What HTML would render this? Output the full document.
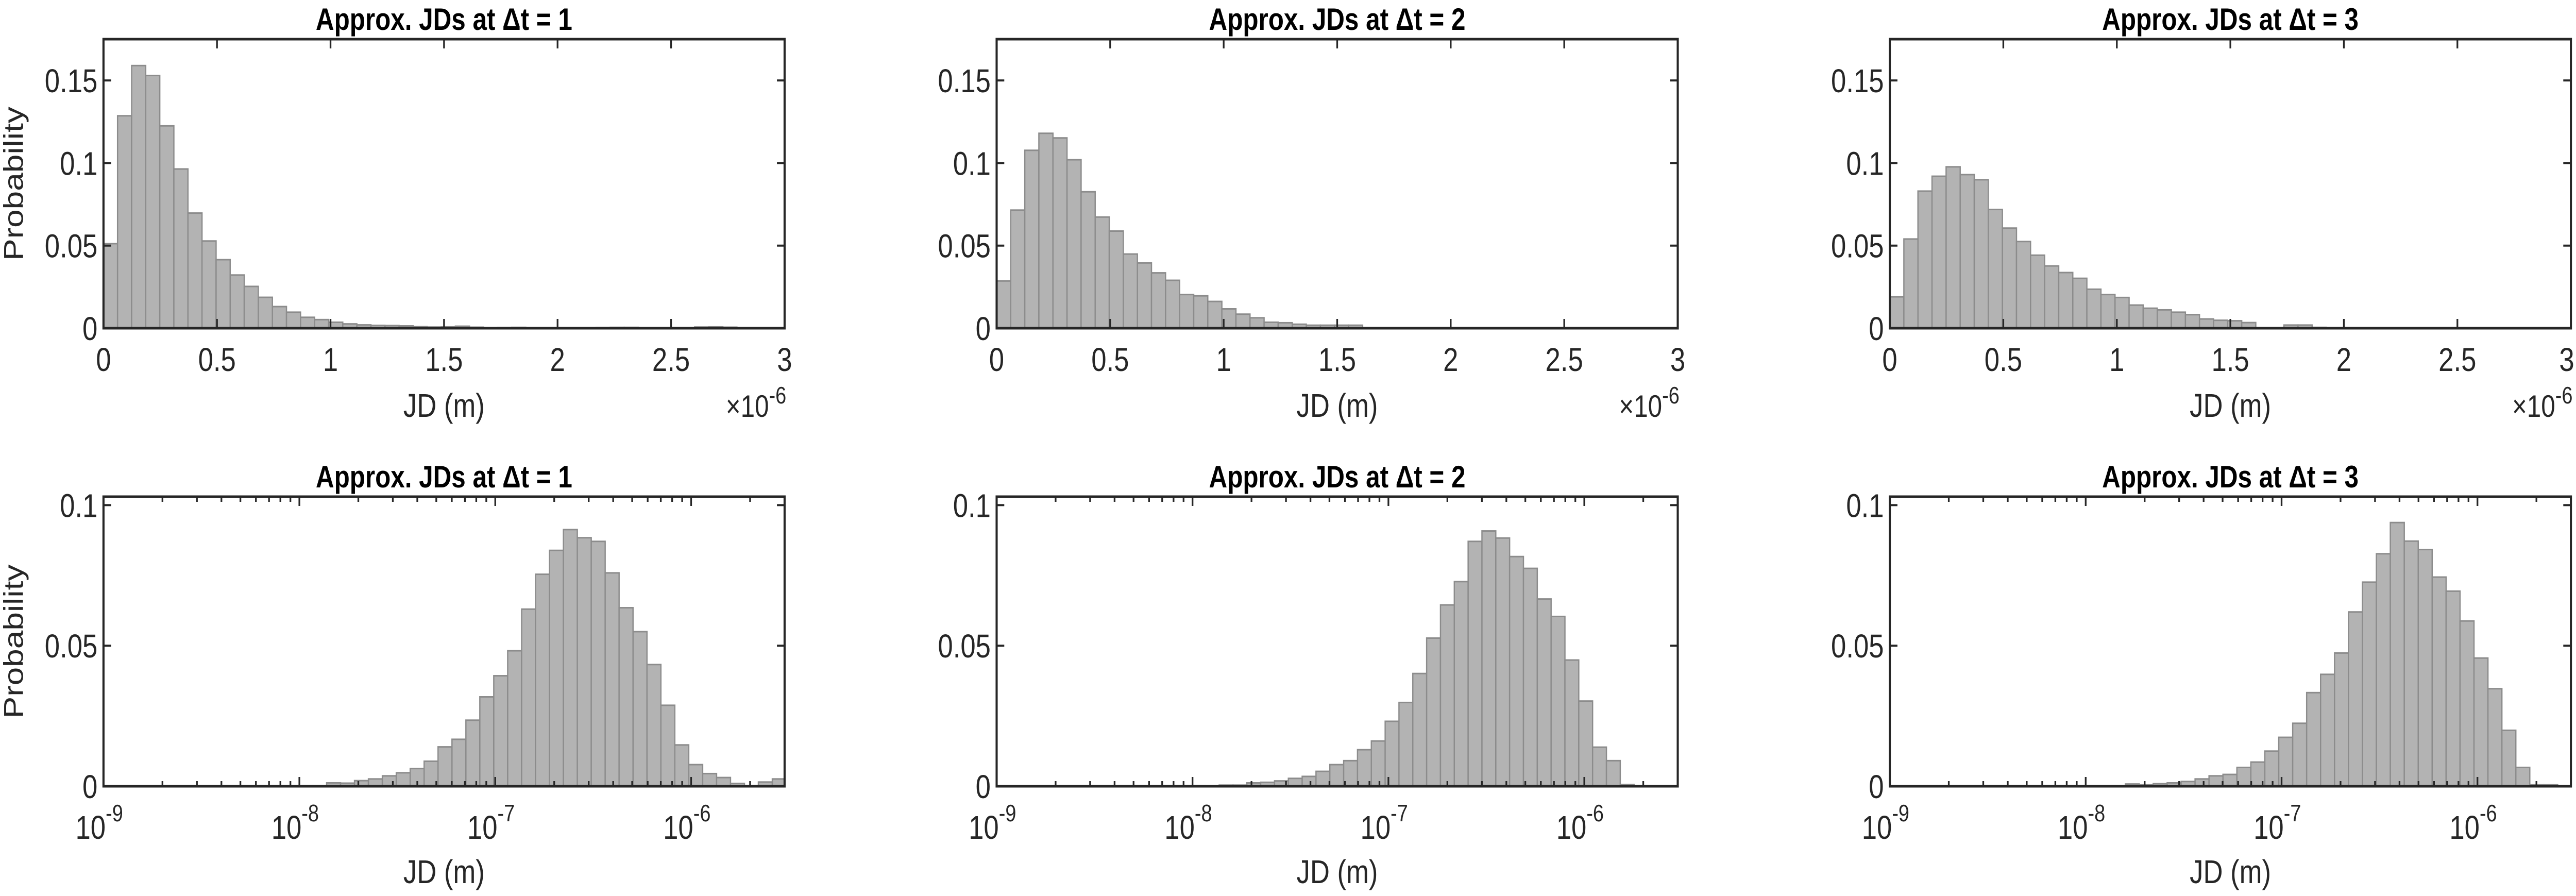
<!DOCTYPE html>
<html><head><meta charset="utf-8"><style>
html,body{margin:0;padding:0;background:#fff;overflow:hidden;width:100%;height:100%;}
svg{display:block;width:100vw;height:100vh;}
text{font-family:"Liberation Sans",Arial,sans-serif;fill:#262626;}
</style></head><body>
<svg id="fig" viewBox="0 0 6074 1739" preserveAspectRatio="none" xmlns="http://www.w3.org/2000/svg"></svg>
<script>
// ---- data (probability per bin) ----
const linBinWidth = 0.062; // x1e-6 m
const top1Vals = [0.0512,0.1286,0.159,0.153,0.1225,0.0964,0.0697,0.0528,0.0415,0.0322,0.0253,0.0187,0.0131,0.0097,0.0066,0.0052,0.0036,0.0026,0.002,0.0017,0.0016,0.0014,0.0009,0.0007,0.0008,0.0012,0.0006,0.0003,0.0004,0.0005,0.0003,0.0002,0.0002,0.0003,0.0002,0.0004,0.0005,0.0005,0.0003,0.0002,0.0001,0.0002,0.0007,0.0008,0.0006,0.0002,0.0001,0.0001];
const top2Vals = [0.0286,0.0715,0.1077,0.118,0.1152,0.102,0.0826,0.0673,0.0588,0.0449,0.0395,0.0335,0.029,0.0204,0.0196,0.0162,0.0117,0.0085,0.0063,0.0036,0.0033,0.0024,0.0018,0.0018,0.0018,0.0018];
const top3Vals = [0.019,0.054,0.083,0.092,0.0977,0.093,0.0899,0.0719,0.0606,0.0525,0.0442,0.0377,0.0337,0.0302,0.0236,0.0204,0.0186,0.014,0.0121,0.0111,0.0097,0.0082,0.0056,0.0048,0.0045,0.0034,0.0002,0.0002,0.0019,0.0019,0.0005];
const bot1Start = -8.003, bot1BinW = 0.0711;
const bot1Vals = [0.0002,0.0002,0.0012,0.0011,0.002,0.0026,0.0037,0.0048,0.0063,0.0089,0.014,0.0167,0.0235,0.0318,0.0393,0.0482,0.063,0.0754,0.0839,0.0913,0.0884,0.0871,0.0759,0.0635,0.055,0.0433,0.0288,0.0147,0.0077,0.0045,0.0031,0.001,0.0002,0.0015,0.0026];
const bot2Start = -8.005, bot2BinW = 0.0706;
const bot2Vals = [0.0002,0.0001,0.0004,0.0004,0.0012,0.0014,0.0019,0.0028,0.0035,0.0053,0.0077,0.0091,0.013,0.0161,0.0231,0.0298,0.0401,0.0527,0.0645,0.0728,0.0871,0.0908,0.0883,0.0817,0.0775,0.0666,0.0604,0.0449,0.0303,0.0139,0.0091,0.0006];
const bot3Start = -7.94, bot3BinW = 0.0712;
const bot3Vals = [0.0001,0.0002,0.0008,0.0005,0.0009,0.0012,0.0017,0.0026,0.0037,0.0042,0.0067,0.0086,0.0125,0.0174,0.0224,0.0333,0.0398,0.0474,0.062,0.0726,0.0827,0.0938,0.0872,0.0842,0.0744,0.0694,0.0588,0.0456,0.0347,0.0199,0.0067,0.0005,0.0005];
const linTicks = [0,0.5,1,1.5,2,2.5,3];
const linTickLabels = ["0","0.5","1","1.5","2","2.5","3"];
const topYTicks = [0,0.05,0.1,0.15];
const topYTickLabels = ["0","0.05","0.1","0.15"];
const botYTicks = [0,0.05,0.1];
const botYTickLabels = ["0","0.05","0.1"];
const logDecades = [-9,-8,-7,-6];
const titles = ["Approx. JDs at \u0394t = 1","Approx. JDs at \u0394t = 2","Approx. JDs at \u0394t = 3"];

// ---- layout ----
const NS = "http://www.w3.org/2000/svg";
const svg = document.getElementById('fig');
const lefts = [244, 2350, 4456];
const W = 1606;
const rows = [{top:76,bottom:637},{top:964,bottom:1526}];
function mk(tag, attrs, parent){const e=document.createElementNS(NS,tag);for(const k in attrs)e.setAttribute(k,attrs[k]);(parent||svg).appendChild(e);return e;}

function drawPanel(col,row,isLog,vals,start,bw,ymax,yT,yL){
  const L=lefts[col], R=L+W, T=rows[row].top, B=rows[row].bottom, H=B-T;
  const g=mk('g',{});
  
  
  const xs = isLog ? (lv)=>L+(lv+9)/(Math.log10(3e-6)+9)*W : (v)=>L+v/3*W;
  const ys = (v)=>B - v/ymax*H;
  const clip=mk('clipPath',{id:'c'+row+col},g); mk('rect',{x:L,y:T,width:W,height:H},clip);
  const bg=mk('g',{'clip-path':'url(#c'+row+col+')'},g);
  vals.forEach((v,i)=>{
    const x0 = isLog ? xs(start+i*bw) : xs(i*linBinWidth);
    const x1 = isLog ? xs(start+(i+1)*bw) : xs((i+1)*linBinWidth);
    const b=mk('rect',{x:x0,y:ys(v),width:x1-x0,height:B-ys(v),fill:'#b3b3b3',stroke:'#8c8c8c','stroke-width':3},bg);
    
    
  });
  const tk=mk('g',{stroke:'#262626','stroke-width':4},g);
  if(!isLog){
    linTicks.forEach((t,i)=>{const x=xs(t);mk('line',{x1:x,y1:B,x2:x,y2:B-18},tk);mk('line',{x1:x,y1:T,x2:x,y2:T+18},tk);
      const over = x+22>6074;
      const lb=mk('text',{x:over?6070:x,y:720,'font-size':64,'text-anchor':over?'end':'middle'},g);lb.textContent=linTickLabels[i];
      
      });
    const ex=mk('text',{x:Math.min(R+4,6070),y:809,'font-size':60,'text-anchor':'end'},g);
    
    
    ex.innerHTML='\u00d710<tspan dy="-26" font-size="46">-6</tspan>';
  } else {
    logDecades.forEach((d)=>{const x=xs(d);mk('line',{x1:x,y1:B,x2:x,y2:B-18},tk);mk('line',{x1:x,y1:T,x2:x,y2:T+18},tk);
      const lb=mk('text',{x:x-10,y:1628,'font-size':64,'text-anchor':'middle'},g);
      
      
      lb.innerHTML='10<tspan dy="-34" font-size="46">'+d+'</tspan>';
      for(let m=2;m<=9;m++){const lv=d+Math.log10(m);if(lv>Math.log10(3e-6)+1e-6)break;const xm=xs(lv);
        mk('line',{x1:xm,y1:B,x2:xm,y2:B-10},tk);mk('line',{x1:xm,y1:T,x2:xm,y2:T+10},tk);}
    });
  }
  yT.forEach((t,i)=>{const y=ys(t);mk('line',{x1:L,y1:y,x2:L+18,y2:y},tk);mk('line',{x1:R,y1:y,x2:R-18,y2:y},tk);
    const lb=mk('text',{x:L-14,y:y+23,'font-size':64,'text-anchor':'end'},g);lb.textContent=yL[i];
    
    });
  const fr=mk('rect',{x:L,y:T,width:W,height:H,fill:'none',stroke:'#262626','stroke-width':5},g);
  
  
  const tt=mk('text',{x:L+W/2,y:T-18,'font-size':60,'font-weight':'bold','text-anchor':'middle'},g);
  tt.setAttribute('style','fill:#000');
  tt.textContent=titles[col];
  
  
  const xl=mk('text',{x:L+W/2,y:row===0?809:1714,'font-size':64,'text-anchor':'middle'},g);
  xl.textContent='JD (m)';
  
  
  if(col===0){const cy=(T+B)/2;const yl=mk('text',{x:0,y:0,'font-size':64,'text-anchor':'middle',transform:'translate(54,'+cy+') rotate(-90)'},g);
    yl.textContent='Probability';
    
    }
}
drawPanel(0,0,false,top1Vals,0,0,0.175,topYTicks,topYTickLabels);
drawPanel(1,0,false,top2Vals,0,0,0.175,topYTicks,topYTickLabels);
drawPanel(2,0,false,top3Vals,0,0,0.175,topYTicks,topYTickLabels);
drawPanel(0,1,true,bot1Vals,bot1Start,bot1BinW,0.103,botYTicks,botYTickLabels);
drawPanel(1,1,true,bot2Vals,bot2Start,bot2BinW,0.103,botYTicks,botYTickLabels);
drawPanel(2,1,true,bot3Vals,bot3Start,bot3BinW,0.103,botYTicks,botYTickLabels);
</script>
</body></html>
